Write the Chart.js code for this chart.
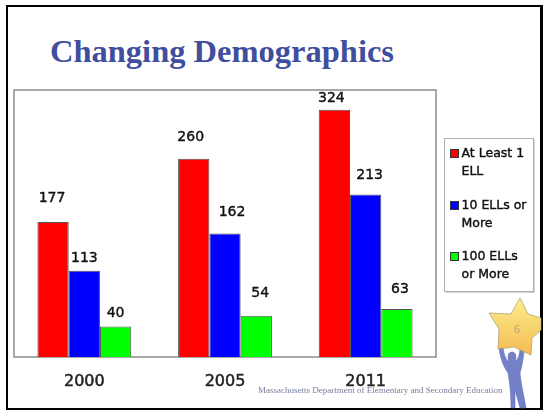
<!DOCTYPE html>
<html>
<head>
<meta charset="utf-8">
<title>Changing Demographics</title>
<script src="https://cdn.jsdelivr.net/npm/chart.js@4"></script>
<style>
html, body { margin: 0; padding: 0; background: #fff; }
#slide { position: relative; width: 543px; height: 410px; overflow: hidden; background: #fff; }
#page { position: absolute; left: 6px; top: 5px; width: 532px; height: 401px; border: solid #000; border-width: 2px 3px 2px 2px; }
#chartWrap { position: absolute; left: 0; top: 0; width: 543px; height: 410px; }
#title { position: absolute; left: 50px; top: 33px; font: bold 32.5px "Liberation Serif", serif; color: #3f4f9e; white-space: nowrap; }
#footer { position: absolute; left: 258px; top: 385px; font: 9px "Liberation Serif", serif; color: #777b9f; white-space: nowrap; }
#star { position: absolute; left: 485px; top: 295px; width: 58px; height: 115px; }
</style>
</head>
<body>
<div id="slide">
  <div id="page"></div>
  <div id="title">Changing Demographics</div>
  <div id="chartWrap"><canvas id="chart" width="543" height="410"></canvas></div>
  <div id="footer">Massachusetts Department of Elementary and Secondary Education</div>
  <svg id="star" viewBox="485 295 58 115">
    <defs>
      <linearGradient id="gold" x1="0" y1="0" x2="0" y2="1">
        <stop offset="0" stop-color="#fbee8c"/>
        <stop offset="1" stop-color="#f5bb52"/>
      </linearGradient>
    </defs>
    <path d="M499 348 L503 347 C504 355 506 360 509 362 C507 357 508 352 512 352 C516 352 517 357 515 362 C518 360 520 354 520 347 L524 348 C524 357 522 366 520 373 C521 384 524 396 526 408 L520 408 L515 390 L515 408 L511 408 C511 396 510 384 508 373 C503 366 500 357 499 348 Z" fill="#7480c8" stroke="#5a66ae" stroke-width="0.5"/>
    <path d="M520 298 L528 314 L541 318 L541 330 L532 338 L531 355 L514 347 L498 349 L499 329 L489 313 L511 314 Z" fill="url(#gold)" stroke="#a89a6a" stroke-width="0.7"/>
    <text x="517" y="333" font-family="Liberation Serif" font-size="12" fill="#a8a088" text-anchor="middle">6</text>
  </svg>
</div>
<script>
const categories = ['2000', '2005', '2011'];
const atLeast1 = [177, 260, 324];
const ells10 = [113, 162, 213];
const ells100 = [40, 54, 63];
const tickMax = 350;

// the labels in the picture do not sit at a fixed spot over their bars
const gapAtLeast1 = [24, 21, 11];
const gapEllS10 = [12, 21, 19];
const gapEllS100 = [13, 22, 20];
const shiftAtLeast1 = [-1, -3, -3];
const shiftEllS10 = [0, 7, 4];
const shiftEllS100 = [0, 4, 3];

const legendLines = [['At Least 1', 'ELL'], ['10 ELLs or', 'More'], ['100 ELLs', 'or More']];
const labelFont = '14px "DejaVu Sans", sans-serif';

// thin stroke on top of the fill, the original text is a little heavier than regular
function heavyText(g, text, x, y) {
    g.fillText(text, x, y);
    g.strokeText(text, x, y);
}

// grey frame round the plot and the value labels
const framePlugin = {
    id: 'frame',
    beforeDatasetsDraw(c) {
        const a = c.chartArea, g = c.ctx;
        g.save();
        g.strokeStyle = '#8c8c8c';
        g.lineWidth = 1.5;
        g.strokeRect(a.left, a.top, a.right - a.left, a.bottom - a.top);
        g.restore();
    },
    afterDatasetsDraw(c) {
        const g = c.ctx;
        g.save();
        g.font = labelFont;
        g.fillStyle = '#111';
        g.strokeStyle = '#111';
        g.lineWidth = 0.4;
        g.textAlign = 'center';
        g.textBaseline = 'middle';
        c.data.datasets.forEach((ds, i) => {
            c.getDatasetMeta(i).data.forEach((bar, j) => {
                heavyText(g, ds.data[j], bar.x + ds.labelShift[j], bar.y - ds.labelGap[j]);
            });
        });
        g.restore();
    }
};

// the legend has wrapped labels in a shadowed box, so it is drawn by hand
const legendPlugin = {
    id: 'boxLegend',
    afterDraw(c) {
        const g = c.ctx;
        g.save();
        g.fillStyle = '#d4d4d4';
        g.fillRect(445, 139, 90, 154);
        g.fillStyle = '#fff';
        g.strokeStyle = '#b0b0b0';
        g.lineWidth = 1;
        g.fillRect(444, 138, 89, 153);
        g.strokeRect(444.5, 138.5, 89, 153);
        g.font = labelFont.replace('14px', '12.5px');
        g.textBaseline = 'middle';
        g.textAlign = 'left';
        const tops = [154, 206, 257];
        c.data.datasets.forEach((ds, i) => {
            g.fillStyle = ds.backgroundColor;
            g.strokeStyle = '#333';
            g.lineWidth = 1;
            g.fillRect(451, tops[i] - 4, 7, 7);
            g.strokeRect(450.5, tops[i] - 4.5, 8, 8);
            g.fillStyle = '#111';
            g.strokeStyle = '#111';
            g.lineWidth = 0.4;
            heavyText(g, legendLines[i][0], 461.5, tops[i]);
            heavyText(g, legendLines[i][1], 461.5, tops[i] + 18);
        });
        g.restore();
    }
};

function initChart() {
    const ctx = document.getElementById('chart').getContext('2d');
    const bar = { borderColor: '#555', borderWidth: 1, categoryPercentage: 0.667, barPercentage: 1 };
    new Chart(ctx, {
        type: 'bar',
        data: {
            labels: categories,
            datasets: [
                { label: 'At Least 1 ELL', data: atLeast1, backgroundColor: '#ff0000', labelGap: gapAtLeast1, labelShift: shiftAtLeast1, ...bar },
                { label: '10 ELLs or More', data: ells10, backgroundColor: '#0000ff', labelGap: gapEllS10, labelShift: shiftEllS10, ...bar },
                { label: '100 ELLs or More', data: ells100, backgroundColor: '#00ff00', labelGap: gapEllS100, labelShift: shiftEllS100, ...bar }
            ]
        },
        options: {
            responsive: false,
            animation: false,
            layout: { padding: { left: 14, top: 90, right: 107, bottom: 0 } },
            plugins: { legend: { display: false }, tooltip: { enabled: false } },
            scales: {
                x: {
                    grid: { display: false },
                    border: { display: false },
                    afterFit(s) { s.height = 53; },
                    ticks: { color: '#222', font: { family: '"DejaVu Sans"', size: 16 }, padding: 7, maxRotation: 0, textStrokeColor: '#222', textStrokeWidth: 0.5 }
                },
                y: {
                    min: 0,
                    max: tickMax,
                    display: false
                }
            }
        },
        plugins: [framePlugin, legendPlugin]
    });
}

window.onload = initChart;
</script>
</body>
</html>
